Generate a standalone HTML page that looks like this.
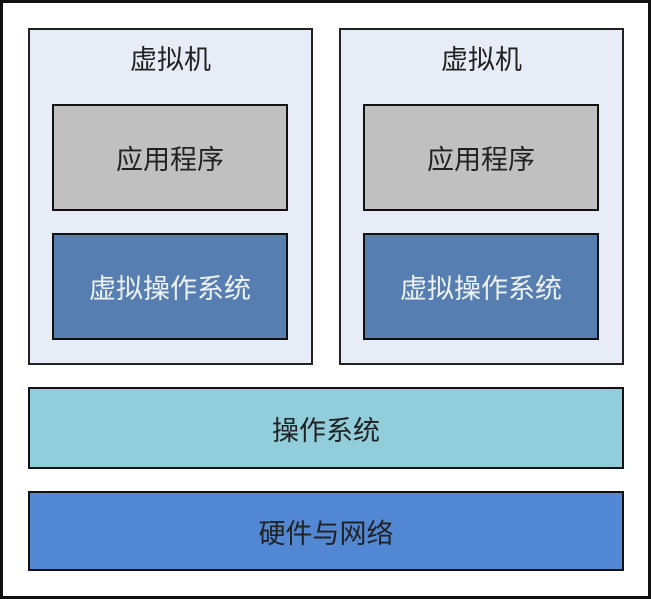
<!DOCTYPE html>
<html><head><meta charset="utf-8"><style>
html,body{margin:0;padding:0;}
body{width:651px;height:599px;position:relative;background:#fff;overflow:hidden;font-family:"Liberation Sans","Noto Sans CJK SC",sans-serif;}
.b{position:absolute;box-sizing:border-box;display:flex;align-items:center;justify-content:center;font-size:27px;color:#222;}
</style></head><body>
<div class="b" style="left:0;top:0;width:651px;height:599px;border:3px solid #111;"></div>
<div class="b" style="left:28px;top:28px;width:285px;height:337px;background:#e7ecf6;border:2px solid #222;align-items:flex-start;padding-top:8px;">虚拟机</div>
<div class="b" style="left:339px;top:28px;width:285px;height:337px;background:#e7ecf6;border:2px solid #222;align-items:flex-start;padding-top:8px;">虚拟机</div>
<div class="b" style="left:52px;top:104px;width:236px;height:107px;background:#c0c0c0;border:2px solid #111;">应用程序</div>
<div class="b" style="left:363px;top:104px;width:236px;height:107px;background:#c0c0c0;border:2px solid #111;">应用程序</div>
<div class="b" style="left:52px;top:233px;width:236px;height:107px;background:#577eb0;border:2px solid #111;color:#eef2f8;">虚拟操作系统</div>
<div class="b" style="left:363px;top:233px;width:236px;height:107px;background:#577eb0;border:2px solid #111;color:#eef2f8;">虚拟操作系统</div>
<div class="b" style="left:28px;top:387px;width:596px;height:82px;background:#92cddb;border:2px solid #111;">操作系统</div>
<div class="b" style="left:28px;top:491px;width:596px;height:80px;background:#5288d3;border:2px solid #111;">硬件与网络</div>
</body></html>
